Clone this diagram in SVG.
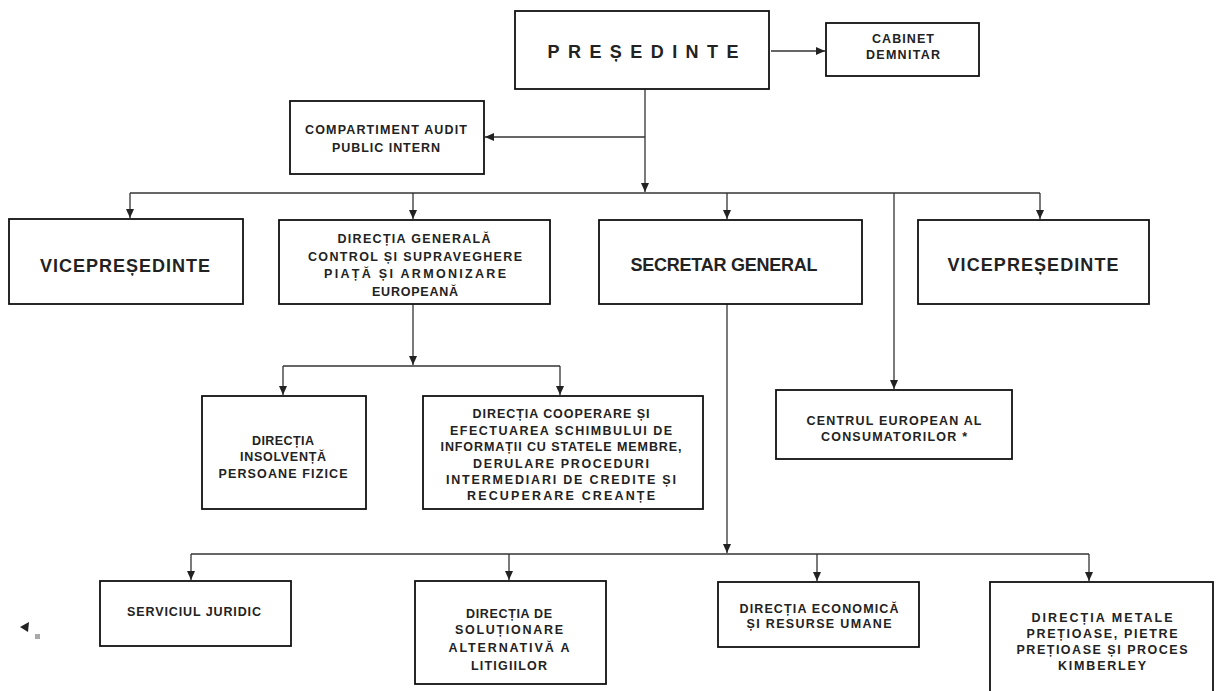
<svg xmlns="http://www.w3.org/2000/svg" width="1216" height="691" viewBox="0 0 1216 691">
<defs>
<marker id="ah" markerUnits="userSpaceOnUse" markerWidth="9" markerHeight="8" viewBox="0 0 9 8" refX="9" refY="4" orient="auto">
<path d="M0,0 L9,4 L0,8 z" fill="#222"/>
</marker>
<style>
.box{fill:#fff;stroke:#111;stroke-width:1.8}
.ln{fill:none;stroke:#333;stroke-width:1.3}
.ar{fill:none;stroke:#333;stroke-width:1.3;marker-end:url(#ah)}
.t{font-family:"Liberation Sans",Arial,sans-serif;font-weight:bold;font-size:12.5px;fill:#222;text-anchor:middle}
.big{font-family:"Liberation Sans",Arial,sans-serif;font-weight:bold;font-size:18px;fill:#222;text-anchor:middle}
</style>
</defs>
<rect width="1216" height="691" fill="#fff"/>
<g id="connectors">
<line class="ar" x1="771" y1="51" x2="825" y2="51"/>
<line class="ar" x1="645" y1="89" x2="645" y2="192"/>
<line class="ar" x1="645" y1="137" x2="485" y2="137"/>
<line class="ln" x1="130" y1="193" x2="1040" y2="193"/>
<line class="ar" x1="130" y1="193" x2="130" y2="218"/>
<line class="ar" x1="413" y1="193" x2="413" y2="219"/>
<line class="ar" x1="727" y1="193" x2="727" y2="219"/>
<line class="ar" x1="1040" y1="193" x2="1040" y2="219"/>
<line class="ar" x1="894" y1="193" x2="894" y2="389"/>
<line class="ar" x1="413" y1="304" x2="413" y2="365"/>
<line class="ln" x1="283" y1="366" x2="560" y2="366"/>
<line class="ar" x1="283" y1="366" x2="283" y2="395"/>
<line class="ar" x1="560" y1="366" x2="560" y2="395"/>
<line class="ar" x1="727" y1="304" x2="727" y2="553"/>
<line class="ln" x1="191" y1="554" x2="1089" y2="554"/>
<line class="ar" x1="191" y1="554" x2="191" y2="580"/>
<line class="ar" x1="509" y1="554" x2="509" y2="580"/>
<line class="ar" x1="817" y1="554" x2="817" y2="581"/>
<line class="ar" x1="1089" y1="554" x2="1089" y2="581"/>
</g>
<g id="presedinte">
<rect class="box" x="515" y="11" width="254" height="78"/>
<text class="big" x="643" y="58" textLength="191">PREȘEDINTE</text>
</g>
<g id="cabinet">
<rect class="box" x="826" y="23" width="153" height="53"/>
<text class="t" x="903" y="43" textLength="62">CABINET</text>
<text class="t" x="903" y="59" textLength="74">DEMNITAR</text>
</g>
<g id="audit">
<rect class="box" x="290" y="101" width="194" height="73"/>
<text class="t" x="386" y="134" textLength="162">COMPARTIMENT AUDIT</text>
<text class="t" x="386" y="152" textLength="108">PUBLIC INTERN</text>
</g>
<g id="vice1">
<rect class="box" x="9" y="219" width="234" height="85"/>
<text class="big" x="125" y="272" textLength="170">VICEPREȘEDINTE</text>
</g>
<g id="dgcontrol">
<rect class="box" x="279" y="220" width="271" height="84"/>
<text class="t" x="414" y="243" textLength="153">DIRECȚIA GENERALĂ</text>
<text class="t" x="415" y="261" textLength="214">CONTROL ȘI SUPRAVEGHERE</text>
<text class="t" x="415" y="278" textLength="182">PIAȚĂ ȘI ARMONIZARE</text>
<text class="t" x="415" y="296" textLength="86">EUROPEANĂ</text>
</g>
<g id="secretar">
<rect class="box" x="599" y="220" width="263" height="84"/>
<text class="big" x="724" y="271" textLength="187">SECRETAR GENERAL</text>
</g>
<g id="vice2">
<rect class="box" x="918" y="220" width="231" height="84"/>
<text class="big" x="1033" y="271" textLength="171">VICEPREȘEDINTE</text>
</g>
<g id="insolventa">
<rect class="box" x="202" y="396" width="164" height="113"/>
<text class="t" x="283" y="445" textLength="62">DIRECȚIA</text>
<text class="t" x="283" y="461" textLength="86">INSOLVENȚĂ</text>
<text class="t" x="283" y="478" textLength="129">PERSOANE FIZICE</text>
</g>
<g id="cooperare">
<rect class="box" x="423" y="396" width="280" height="113"/>
<text class="t" x="561" y="418" textLength="177">DIRECȚIA COOPERARE ȘI</text>
<text class="t" x="561" y="435" textLength="222">EFECTUAREA SCHIMBULUI DE</text>
<text class="t" x="561" y="451" textLength="241">INFORMAȚII CU STATELE MEMBRE,</text>
<text class="t" x="561" y="468" textLength="176">DERULARE PROCEDURI</text>
<text class="t" x="561" y="484" textLength="230">INTERMEDIARI DE CREDITE ȘI</text>
<text class="t" x="561" y="500" textLength="188">RECUPERARE CREANȚE</text>
</g>
<g id="centrul">
<rect class="box" x="776" y="390" width="236" height="69"/>
<text class="t" x="894" y="425" textLength="175">CENTRUL EUROPEAN AL</text>
<text class="t" x="894" y="441" textLength="146">CONSUMATORILOR *</text>
</g>
<g id="juridic">
<rect class="box" x="100" y="581" width="191" height="65"/>
<text class="t" x="194" y="616" textLength="134">SERVICIUL JURIDIC</text>
</g>
<g id="solutionare">
<rect class="box" x="415" y="581" width="191" height="103"/>
<text class="t" x="509" y="618" textLength="86">DIRECȚIA DE</text>
<text class="t" x="509" y="634" textLength="108">SOLUȚIONARE</text>
<text class="t" x="509" y="652" textLength="121">ALTERNATIVĂ A</text>
<text class="t" x="509" y="670" textLength="76">LITIGIILOR</text>
</g>
<g id="economica">
<rect class="box" x="718" y="582" width="201" height="65"/>
<text class="t" x="819" y="613" textLength="159">DIRECȚIA ECONOMICĂ</text>
<text class="t" x="819" y="628" textLength="145">ȘI RESURSE UMANE</text>
</g>
<g id="metale">
<rect class="box" x="990" y="582" width="223" height="115"/>
<text class="t" x="1102" y="622" textLength="141">DIRECȚIA METALE</text>
<text class="t" x="1102" y="638" textLength="151">PREȚIOASE, PIETRE</text>
<text class="t" x="1102" y="654" textLength="171">PREȚIOASE ȘI PROCES</text>
<text class="t" x="1102" y="670" textLength="88">KIMBERLEY</text>
</g>
<g id="mark">
<path d="M20,627 L29,622 L28,632 z" fill="#222"/>
<rect x="35" y="634" width="5" height="5" fill="#aaa"/>
</g>
</svg>
